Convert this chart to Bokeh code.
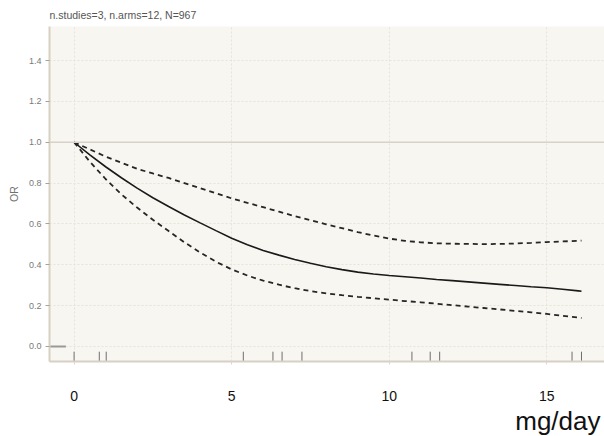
from bokeh.plotting import figure
from bokeh.models import FixedTicker, Span, Title, CustomJSTickFormatter
from bokeh.embed import file_html
from bokeh.resources import INLINE

# ---- data ----
dose = [0, 0.5, 1, 1.5, 2, 2.5, 3, 3.5, 4, 4.5, 5, 5.5, 6, 6.5, 7, 7.5, 8, 8.5, 9, 9.5,
        10, 10.5, 11, 11.5, 12, 12.5, 13, 13.5, 14, 14.5, 15, 15.5, 16, 16.1]
or_mid = [1.0, 0.938, 0.88, 0.826, 0.775, 0.728, 0.685, 0.644, 0.605, 0.567, 0.53, 0.498,
          0.47, 0.447, 0.426, 0.407, 0.39, 0.376, 0.364, 0.355, 0.347, 0.341, 0.335, 0.328,
          0.322, 0.316, 0.31, 0.304, 0.298, 0.292, 0.287, 0.280, 0.272, 0.270]
or_upper = [1.0, 0.965, 0.93, 0.90, 0.87, 0.847, 0.825, 0.80, 0.775, 0.75, 0.725, 0.703,
            0.682, 0.66, 0.638, 0.618, 0.598, 0.579, 0.56, 0.543, 0.528, 0.517, 0.51, 0.505,
            0.503, 0.502, 0.501, 0.502, 0.504, 0.507, 0.511, 0.514, 0.517, 0.518]
or_lower = [1.0, 0.905, 0.82, 0.745, 0.68, 0.62, 0.565, 0.51, 0.46, 0.415, 0.377, 0.347,
            0.322, 0.302, 0.285, 0.271, 0.26, 0.251, 0.243, 0.236, 0.229, 0.222, 0.216, 0.209,
            0.202, 0.195, 0.188, 0.181, 0.174, 0.167, 0.159, 0.15, 0.141, 0.139]
rug_doses = [0, 0.8, 1.02, 5.37, 6.31, 6.6, 7.23, 10.72, 11.3, 11.6, 15.8, 16.1]
x_ticks = [0, 5, 10, 15]
y_ticks = [0.0, 0.2, 0.4, 0.6, 0.8, 1.0, 1.2, 1.4]
title_text = "n.studies=3, n.arms=12, N=967"
x_title = "mg/day"
y_title = "OR"

FONT = "Liberation Sans"
X0, X1 = -0.78, 16.83
Y0, Y1 = -0.074, 1.567

p = figure(width=604, height=436, output_backend="svg", toolbar_location=None,
           x_range=(X0, X1), y_range=(Y0, Y1),
           min_border_left=49, min_border_right=0, min_border_top=26, min_border_bottom=75,
           background_fill_color="#f8f6f1", border_fill_color="white")
p.outline_line_color = None

# title
p.title.text = title_text
p.title.text_font = FONT
p.title.text_font_size = "10.5px"
p.title.text_font_style = "normal"
p.title.text_color = "#555555"
p.title.align = "left"
p.title.standoff = 11

# grid
p.xgrid.ticker = FixedTicker(ticks=x_ticks)
p.ygrid.ticker = FixedTicker(ticks=y_ticks)
for g in (p.xgrid, p.ygrid):
    g.grid_line_color = "#e9e3d9"
    g.grid_line_dash = "2 2"
    g.grid_line_width = 1

# x axis
p.xaxis.ticker = FixedTicker(ticks=x_ticks)
p.xaxis.minor_tick_line_color = None
p.xaxis.major_tick_in = 0
p.xaxis.major_tick_out = 3
p.xaxis.major_tick_line_color = "#ddd6cc"
p.xaxis.axis_line_color = "#d8d0c4"
p.xaxis.axis_line_width = 2
p.xaxis.major_label_text_font = FONT
p.xaxis.major_label_text_font_size = "14px"
p.xaxis.major_label_text_color = "#111111"
p.xaxis.major_label_standoff = 26

# y axis
p.yaxis.ticker = FixedTicker(ticks=y_ticks)
p.yaxis.formatter = CustomJSTickFormatter(code="return tick.toFixed(1);")
p.yaxis.minor_tick_line_color = None
p.yaxis.major_tick_in = 0
p.yaxis.major_tick_out = 4
p.yaxis.major_tick_line_color = "#a8a29a"
p.yaxis.axis_line_color = "#d8d0c4"
p.yaxis.axis_line_width = 2
p.yaxis.major_label_text_font = FONT
p.yaxis.major_label_text_font_size = "9px"
p.yaxis.major_label_text_color = "#7a7a7a"
p.yaxis.major_label_standoff = 4
p.yaxis.axis_label = y_title
p.yaxis.axis_label_text_font = FONT
p.yaxis.axis_label_text_font_size = "10.5px"
p.yaxis.axis_label_text_font_style = "normal"
p.yaxis.axis_label_text_color = "#707070"
p.yaxis.axis_label_standoff = 6

# x title below, right aligned
p.add_layout(Title(text=x_title, align="right", text_font=FONT, text_font_size="26px",
                   text_font_style="normal", text_color="#111111", standoff=0, offset=4),
             "below")

# reference line at OR = 1
p.add_layout(Span(location=1.0, dimension="width", line_color="#d6d1c9", line_width=1.5))

# short segment at 0
p.segment(x0=[X0], y0=[0], x1=[-0.26], y1=[0], line_color="#999999", line_width=2)

# rug
p.segment(x0=rug_doses, y0=[-0.026] * len(rug_doses), x1=rug_doses, y1=[Y0] * len(rug_doses),
          line_color="#6e6e6e", line_width=1)

# curves
p.line(dose, or_mid, line_color="#1a1a1a", line_width=1.6)
p.line(dose, or_upper, line_color="#262626", line_width=1.8, line_dash="5 4")
p.line(dose, or_lower, line_color="#262626", line_width=1.8, line_dash="5 4")

open("out.html", "w").write(file_html(p, INLINE))
